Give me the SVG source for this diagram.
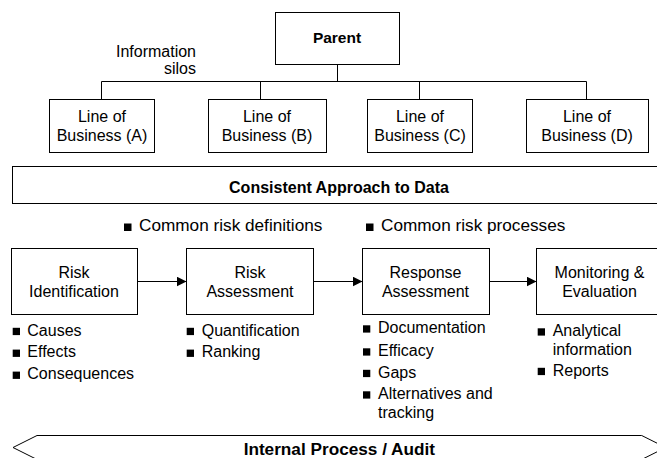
<svg xmlns="http://www.w3.org/2000/svg" width="657" height="458" viewBox="0 0 657 458">
<style>
  .box { fill: #fff; stroke: #000; stroke-width: 1; }
  .ln { fill: none; stroke: #000; stroke-width: 1; }
  text { font-family: "Liberation Sans", Arial, sans-serif; font-size: 16px; fill: #000; }
  .c { text-anchor: middle; }
  .b { font-weight: bold; }
  .big { font-size: 17.2px; }
  .sq { fill: #000; }
</style>
<defs>
  <marker id="arr" markerWidth="10" markerHeight="10" refX="10" refY="5" orient="auto" markerUnits="userSpaceOnUse">
    <path d="M0,0 L10,5 L0,10 Z" fill="#000"/>
  </marker>
</defs>
<rect width="657" height="458" fill="#fff"/>

<g id="connectors">
  <path class="ln" d="M337.5,64.5 V81.5 M101.5,81.5 H586.5 M101.5,81.5 V99.5 M260.5,81.5 V99.5 M419.5,81.5 V99.5 M586.5,81.5 V99.5"/>
  <line class="ln" x1="137.5" y1="281.5" x2="186.5" y2="281.5" marker-end="url(#arr)"/>
  <line class="ln" x1="313.5" y1="281.5" x2="362.5" y2="281.5" marker-end="url(#arr)"/>
  <line class="ln" x1="489.5" y1="281.5" x2="536.5" y2="281.5" marker-end="url(#arr)"/>
</g>

<g id="parent">
  <rect class="box" x="275.5" y="12.5" width="124" height="52"/>
  <text class="c b" x="337" y="42.5" style="font-size:15.5px">Parent</text>
</g>

<g id="silos-label">
  <text x="196" y="57" text-anchor="end">Information</text>
  <text x="196" y="74" text-anchor="end">silos</text>
</g>

<g id="lob-a">
  <rect class="box" x="49.5" y="99.5" width="105" height="53"/>
  <text class="c" x="102" y="122">Line of</text>
  <text class="c" x="102" y="141">Business (A)</text>
</g>
<g id="lob-b">
  <rect class="box" x="208.5" y="99.5" width="118" height="53"/>
  <text class="c" x="267" y="122">Line of</text>
  <text class="c" x="267" y="141">Business (B)</text>
</g>
<g id="lob-c">
  <rect class="box" x="367.5" y="99.5" width="105" height="53"/>
  <text class="c" x="420" y="122">Line of</text>
  <text class="c" x="420" y="141">Business (C)</text>
</g>
<g id="lob-d">
  <rect class="box" x="526.5" y="99.5" width="122" height="53"/>
  <text class="c" x="587" y="122">Line of</text>
  <text class="c" x="587" y="141">Business (D)</text>
</g>

<g id="consistent">
  <rect class="box" x="12.5" y="166.5" width="654" height="37"/>
  <text class="c b" x="339" y="193">Consistent Approach to Data</text>
</g>

<g id="common">
  <rect class="sq" x="124" y="223.5" width="7.5" height="7.5"/>
  <text class="big" x="139" y="231">Common risk definitions</text>
  <rect class="sq" x="366" y="223.5" width="7.5" height="7.5"/>
  <text class="big" x="381" y="231">Common risk processes</text>
</g>

<g id="risk-identification">
  <rect class="box" x="11.5" y="248.5" width="126" height="66"/>
  <text class="c" x="74" y="277.5">Risk</text>
  <text class="c" x="74" y="296.5">Identification</text>
  <rect class="sq" x="12.7" y="327.8" width="7.3" height="7.3"/>
  <text x="27.3" y="335.5">Causes</text>
  <rect class="sq" x="12.7" y="349.6" width="7.3" height="7.3"/>
  <text x="27.3" y="357.3">Effects</text>
  <rect class="sq" x="12.7" y="371.6" width="7.3" height="7.3"/>
  <text x="27.3" y="379.3">Consequences</text>
</g>

<g id="risk-assessment">
  <rect class="box" x="186.5" y="248.5" width="127" height="66"/>
  <text class="c" x="250" y="277.5">Risk</text>
  <text class="c" x="250" y="296.5">Assessment</text>
  <rect class="sq" x="186.7" y="327.8" width="7.3" height="7.3"/>
  <text x="201.7" y="335.5">Quantification</text>
  <rect class="sq" x="186.7" y="349.6" width="7.3" height="7.3"/>
  <text x="201.7" y="357.3">Ranking</text>
</g>

<g id="response-assessment">
  <rect class="box" x="362.5" y="248.5" width="127" height="66"/>
  <text class="c" x="425.5" y="277.5">Response</text>
  <text class="c" x="425.5" y="296.5">Assessment</text>
  <rect class="sq" x="363" y="325.3" width="7.3" height="7.3"/>
  <text x="378" y="333">Documentation</text>
  <rect class="sq" x="363" y="348.3" width="7.3" height="7.3"/>
  <text x="378" y="356">Efficacy</text>
  <rect class="sq" x="363" y="369.8" width="7.3" height="7.3"/>
  <text x="378" y="377.5">Gaps</text>
  <rect class="sq" x="363" y="391.3" width="7.3" height="7.3"/>
  <text x="378" y="399">Alternatives and</text>
  <text x="378" y="418">tracking</text>
</g>

<g id="monitoring-evaluation">
  <rect class="box" x="536.5" y="248.5" width="127" height="66"/>
  <text class="c" x="599.5" y="277.5">Monitoring &amp;</text>
  <text class="c" x="599.5" y="296.5">Evaluation</text>
  <rect class="sq" x="537.7" y="328.3" width="7.3" height="7.3"/>
  <text x="552.7" y="336">Analytical</text>
  <text x="552.7" y="355">information</text>
  <rect class="sq" x="537.7" y="367.8" width="7.3" height="7.3"/>
  <text x="552.7" y="375.5">Reports</text>
</g>

<g id="internal-audit">
  <polygon class="box" points="37,435.5 641.7,435.5 665.7,447.5 641.7,459.5 37,459.5 13,447.5"/>
  <text class="c b big" x="339.3" y="454.5">Internal Process / Audit</text>
</g>
</svg>
